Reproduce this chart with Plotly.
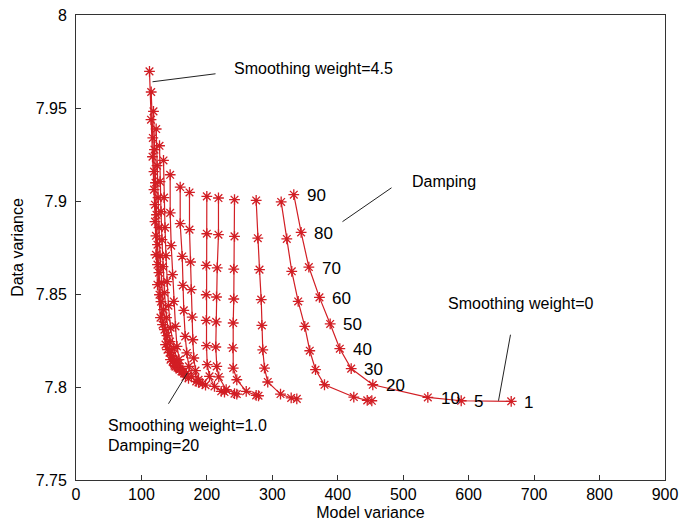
import plotly.graph_objects as go

# Damping values along every curve (top to bottom)
damping = [90, 80, 70, 60, 50, 40, 30, 20, 10, 5, 1]

# One curve per smoothing weight, from smoothing weight = 4.5 (left) to 0 (right)
x_c01 = [112.3, 114.6, 116.9, 119.2, 120.7, 122.2, 124.5, 129.1, 136.8, 144.4, 150.5]
y_c01 = [7.9697, 7.9437, 7.9238, 7.9061, 7.8889, 7.8711, 7.8550, 7.8373, 7.8228, 7.8147, 7.8115]
x_c02 = [114.9, 117.4, 119.2, 120.7, 122.2, 124.5, 127.6, 132.2, 139.8, 147.5, 152.0]
y_c02 = [7.9586, 7.9339, 7.9158, 7.8980, 7.8813, 7.8658, 7.8496, 7.8335, 7.8201, 7.8136, 7.8109]
x_c03 = [118.4, 119.9, 121.5, 123.0, 124.5, 126.8, 129.9, 135.2, 142.9, 150.5, 155.1]
y_c03 = [7.9482, 7.9276, 7.9098, 7.8926, 7.8765, 7.8615, 7.8459, 7.8308, 7.8185, 7.8125, 7.8104]
x_c04 = [122.5, 123.8, 125.3, 126.8, 128.4, 130.6, 133.7, 139.0, 146.7, 153.6, 158.1]
y_c04 = [7.9387, 7.9190, 7.9018, 7.8857, 7.8706, 7.8561, 7.8416, 7.8276, 7.8168, 7.8115, 7.8093]
x_c05 = [127.6, 128.4, 129.9, 131.4, 132.9, 135.2, 138.3, 143.6, 151.3, 158.1, 162.7]
y_c05 = [7.9297, 7.9104, 7.8943, 7.8792, 7.8647, 7.8507, 7.8373, 7.8244, 7.8147, 7.8098, 7.8082]
x_c06 = [133.7, 134.5, 136.0, 137.5, 139.0, 141.3, 144.4, 149.7, 156.6, 164.3, 168.8]
y_c06 = [7.9218, 7.9018, 7.8857, 7.8706, 7.8566, 7.8437, 7.8319, 7.8206, 7.8125, 7.8082, 7.8072]
x_c07 = [143.9, 143.9, 145.5, 147.5, 149.4, 152.0, 154.3, 157.4, 161.2, 167.3, 171.9]
y_c07 = [7.9141, 7.8936, 7.8760, 7.8604, 7.8460, 7.8326, 7.8218, 7.8147, 7.8084, 7.8055, 7.8047]
x_c08 = [159.2, 159.2, 162.3, 163.2, 164.7, 166.9, 169.3, 172.4, 176.5, 183.7, 187.2]
y_c08 = [7.9075, 7.8878, 7.8702, 7.8546, 7.8412, 7.8272, 7.8183, 7.8111, 7.8055, 7.8030, 7.8025]
x_c09 = [173.4, 173.4, 175.0, 176.0, 177.6, 178.5, 180.0, 182.6, 187.2, 193.3, 197.9]
y_c09 = [7.9046, 7.8846, 7.8672, 7.8523, 7.8376, 7.8254, 7.8156, 7.8088, 7.8039, 7.8018, 7.8010]
x_c10 = [199.9, 199.9, 199.0, 199.0, 199.0, 199.4, 200.5, 204.0, 211.6, 221.9, 226.9]
y_c10 = [7.9025, 7.8824, 7.8654, 7.8496, 7.8358, 7.8222, 7.8120, 7.8057, 7.8003, 7.7977, 7.7973]
x_c11 = [217.7, 217.7, 215.8, 214.7, 214.2, 213.6, 215.1, 218.2, 229.5, 242.2, 245.7]
y_c11 = [7.9016, 7.8819, 7.8640, 7.8484, 7.8350, 7.8215, 7.8111, 7.8054, 7.7986, 7.7964, 7.7962]
x_c12 = [242.2, 242.2, 241.1, 241.1, 240.2, 239.6, 240.2, 245.7, 260.1, 275.3, 278.9]
y_c12 = [7.9007, 7.8810, 7.8634, 7.8473, 7.8344, 7.8210, 7.8102, 7.8039, 7.7977, 7.7955, 7.7953]
x_c13 = [275.3, 277.8, 280.4, 283.0, 284.0, 285.4, 288.0, 293.0, 312.5, 328.8, 337.4]
y_c13 = [7.9003, 7.8800, 7.8631, 7.8470, 7.8331, 7.8200, 7.8102, 7.8027, 7.7962, 7.7941, 7.7936]
x_c14 = [313.5, 322.1, 329.7, 339.5, 349.6, 357.2, 366.0, 379.7, 424.5, 445.0, 452.0]
y_c14 = [7.8995, 7.8796, 7.8622, 7.8460, 7.8326, 7.8195, 7.8093, 7.8012, 7.7946, 7.7928, 7.7926]
x_c15 = [332.8, 344.0, 355.8, 372.0, 388.4, 403.1, 420.5, 453.5, 537.6, 588.6, 665.0]
y_c15 = [7.9034, 7.8831, 7.8645, 7.8482, 7.8339, 7.8206, 7.8099, 7.8012, 7.7944, 7.7926, 7.7923]

curves_x = [x_c01, x_c02, x_c03, x_c04, x_c05, x_c06, x_c07, x_c08,
            x_c09, x_c10, x_c11, x_c12, x_c13, x_c14, x_c15]
curves_y = [y_c01, y_c02, y_c03, y_c04, y_c05, y_c06, y_c07, y_c08,
            y_c09, y_c10, y_c11, y_c12, y_c13, y_c14, y_c15]

x_ticks = [0, 100, 200, 300, 400, 500, 600, 700, 800, 900]
y_ticks = [7.75, 7.8, 7.85, 7.9, 7.95, 8]

RED = "rgb(210,30,36)"
FONT = "Liberation Sans, Arial, Helvetica, sans-serif"

fig = go.Figure()
for cx, cy in zip(curves_x, curves_y):
    fig.add_trace(go.Scatter(
        x=cx, y=cy, mode="lines+markers",
        line=dict(color=RED, width=1.2),
        marker=dict(symbol="asterisk", size=9, color=RED,
                    line=dict(color=RED, width=1.3)),
        showlegend=False, hoverinfo="x+y"))

annotations = []
# damping labels on the smoothing weight = 0 curve
for d, xv, yv in zip(damping, x_c15, y_c15):
    annotations.append(dict(x=xv, y=yv, xref="x", yref="y", text=str(d),
                            showarrow=False, xanchor="left", yanchor="middle",
                            xshift=11, yshift=-1,
                            font=dict(family=FONT, size=17, color="black")))

text_notes = [
    ("Smoothing weight=4.5", 237.6, 7.9711),
    ("Damping", 509.6, 7.9104),
    ("Smoothing weight=0", 565.7, 7.8448),
    ("Smoothing weight=1.0", 45.2, 7.7792),
    ("Damping=20", 45.2, 7.7685),
]
for t, xv, yv in text_notes:
    annotations.append(dict(x=xv, y=yv, xref="x", yref="y", text=t,
                            showarrow=False, xanchor="left", yanchor="middle",
                            font=dict(family=FONT, size=16, color="black")))

pointer_lines = [
    (116.9, 7.9641, 213.2, 7.9684),
    (407.2, 7.8889, 482.1, 7.9071),
    (645.6, 7.7926, 663.9, 7.8281),
    (141.3, 7.7910, 170.4, 7.8077),
]
shapes = [dict(type="line", xref="x", yref="y", x0=a, y0=b, x1=c, y1=d,
               line=dict(color="#222", width=1)) for a, b, c, d in pointer_lines]

axis_common = dict(showgrid=False, zeroline=False, showline=True, mirror=True,
                   linecolor="#333", linewidth=1, ticks="inside", ticklen=5,
                   tickcolor="#333", ticklabeloverflow="allow", automargin=False,
                   tickfont=dict(family=FONT, size=16, color="black"))

# the page body adds an 8px offset, so the figure is 8px smaller than the window
fig.update_layout(
    width=685, height=518,
    margin=dict(l=68, r=28, t=7, b=46),
    paper_bgcolor="white", plot_bgcolor="white",
    xaxis=dict(range=[0, 900], tickvals=x_ticks, autorange=False,
               title=dict(text="Model variance", standoff=4,
                          font=dict(family=FONT, size=16, color="black")),
               **axis_common),
    yaxis=dict(range=[7.75, 8], tickvals=y_ticks, autorange=False,
               ticklabelstandoff=5,
               title=dict(text="Data variance", standoff=8,
                          font=dict(family=FONT, size=16, color="black")),
               **axis_common),
    annotations=annotations, shapes=shapes,
)

fig.write_html("out.html")
